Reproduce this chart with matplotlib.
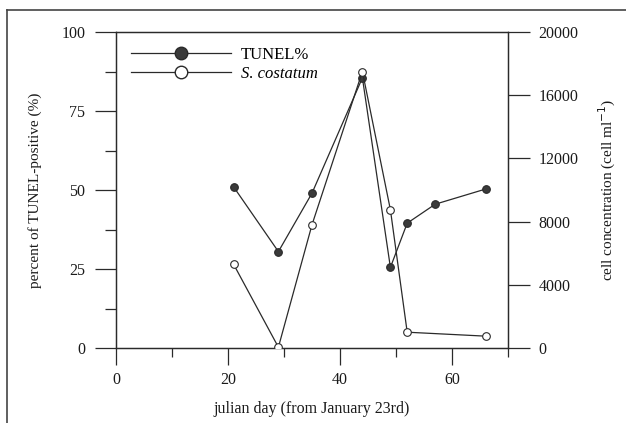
"""
TUNEL% vs S. costatum cell concentration over julian day (twin y axes).
"""
import matplotlib
matplotlib.use("Agg")
import matplotlib.pyplot as plt
from matplotlib.lines import Line2D
from matplotlib.ticker import MultipleLocator

# data
tunel_days = [21, 29, 35, 44, 49, 52, 57, 66]
tunel_pct = [51, 30.5, 49, 85.5, 25.5, 39.5, 45.5, 50.3]

cost_days = [21, 29, 35, 44, 49, 52, 66]
cost_cells = [5300, 50, 7800, 17500, 8750, 1000, 750]

x_ticks = [0, 20, 40, 60]
left_ticks = [0, 25, 50, 75, 100]
right_ticks = [0, 4000, 8000, 12000, 16000, 20000]

plt.rcParams["font.family"] = ["Liberation Serif", "DejaVu Serif"]
line_c = "#2a2a2a"
txt_c = "#1a1a1a"

fig = plt.figure(figsize=(6.26, 4.23), dpi=100)
ax = fig.add_axes([116 / 626, 1 - 348 / 423, (508 - 116) / 626, (348 - 32) / 423])
ax2 = ax.twinx()

ax.plot(tunel_days, tunel_pct, color=line_c, lw=0.9, marker="o", ms=5.5,
        mfc="#3a3a3a", mec="#2a2a2a", mew=0.8, label="TUNEL%", zorder=3)
ax2.plot(cost_days, cost_cells, color=line_c, lw=0.9, marker="o", ms=5.5,
         mfc="white", mec="#2a2a2a", mew=0.8, zorder=3)

ax.set_xlim(0, 70)
ax.set_ylim(0, 100)
ax2.set_ylim(0, 20000)

ax.set_xticks(x_ticks)
ax.xaxis.set_minor_locator(MultipleLocator(10))
ax.set_yticks(left_ticks)
ax.yaxis.set_minor_locator(MultipleLocator(12.5))
ax2.set_yticks(right_ticks)

ax.tick_params(axis="x", which="major", direction="out", length=12.5, width=0.9,
               labelsize=11.5, pad=5, colors=line_c, labelcolor=txt_c)
ax.tick_params(axis="x", which="minor", direction="out", length=6.5, width=0.9, colors=line_c)
ax.tick_params(axis="y", which="major", direction="out", length=15, width=0.9,
               labelsize=11.5, pad=7, colors=line_c, labelcolor=txt_c)
ax.tick_params(axis="y", which="minor", direction="out", length=8, width=0.9, colors=line_c)
ax2.tick_params(axis="y", which="major", direction="out", length=16, width=0.9,
                labelsize=11.5, pad=6, colors=line_c, labelcolor=txt_c)
for a in (ax, ax2):
    for s in a.spines.values():
        s.set_linewidth(0.9)
        s.set_color(line_c)

ax.set_xlabel("julian day (from January 23rd)", fontsize=11.5, labelpad=9, color=txt_c)
ax.set_ylabel("percent of TUNEL-positive (%)", fontsize=11, labelpad=14, color=txt_c)
ax2.set_ylabel("cell concentration (cell ml$^{-1}$)", fontsize=11, labelpad=13, color=txt_c)

# legend
h1 = Line2D([], [], color=line_c, lw=0.9, marker="o", ms=9, mfc="#3a3a3a", mec="#2a2a2a")
h2 = Line2D([], [], color=line_c, lw=0.9, marker="o", ms=9, mfc="white", mec="#2a2a2a")
leg = ax.legend([h1, h2], ["TUNEL%", "S. costatum"], loc="upper left",
                bbox_to_anchor=(0.0, 1.0), frameon=False, fontsize=12,
                handlelength=6.0, handletextpad=0.6, labelspacing=0.2,
                borderaxespad=0.5)
leg.get_texts()[1].set_fontstyle("italic")

# outer frame (left and top only)
fig.add_artist(Line2D([7 / 626, 7 / 626], [0, 1 - 10 / 423], transform=fig.transFigure,
                      color="#444444", lw=1.2))
fig.add_artist(Line2D([7 / 626, 1], [1 - 10 / 423, 1 - 10 / 423], transform=fig.transFigure,
                      color="#444444", lw=1.2))

fig.savefig("out.png", dpi=100)
plt.close(fig)
